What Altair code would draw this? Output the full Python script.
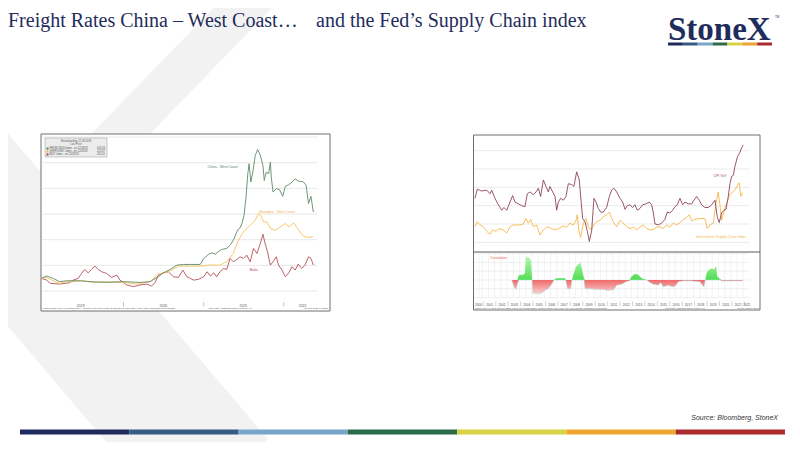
import altair as alt
import pandas as pd

W, H = 784, 434  # whole slide; the page adds an 8px margin

# ---------------- left chart: freight indices, normalized to 100 ----------------
china_wc = [("2018-12-24", 100), ("2019-01-16", 117), ("2019-02-15", 98), ("2019-03-16", 73),
            ("2019-04-16", 80), ("2019-05-16", 80), ("2019-06-16", 80), ("2019-08-01", 73),
            ("2019-10-16", 67), ("2020-01-01", 73), ("2020-03-16", 67), ("2020-05-01", 73),
            ("2020-06-08", 111), ("2020-07-01", 142), ("2020-08-01", 168), ("2020-09-01", 202),
            ("2020-10-01", 207), ("2020-11-01", 207), ("2020-12-16", 207), ("2021-01-01", 254),
            ("2021-01-24", 287), ("2021-02-08", 298), ("2021-02-22", 287), ("2021-03-08", 306),
            ("2021-03-24", 324), ("2021-04-16", 332), ("2021-05-01", 357), ("2021-05-16", 396),
            ("2021-06-01", 461), ("2021-06-08", 482), ("2021-06-16", 492), ("2021-06-24", 526),
            ("2021-07-04", 591), ("2021-07-13", 733), ("2021-07-21", 914), ("2021-07-27", 992),
            ("2021-08-04", 850), ("2021-08-13", 927), ("2021-08-24", 1057), ("2021-09-04", 1103),
            ("2021-09-16", 1057), ("2021-09-28", 979), ("2021-10-04", 862), ("2021-10-13", 927),
            ("2021-10-24", 914), ("2021-11-01", 1005), ("2021-11-05", 888), ("2021-11-13", 772),
            ("2021-11-28", 798), ("2021-12-13", 790), ("2021-12-27", 738), ("2022-01-08", 816),
            ("2022-01-24", 829), ("2022-02-08", 850), ("2022-02-22", 875), ("2022-03-08", 857),
            ("2022-04-01", 850), ("2022-04-13", 824), ("2022-04-24", 681), ("2022-05-05", 738),
            ("2022-05-16", 616)]

shanghai_wc = [("2018-12-24", 98), ("2019-01-16", 106), ("2019-02-15", 80), ("2019-03-16", 60),
               ("2019-04-16", 73), ("2019-05-16", 73), ("2019-07-01", 80), ("2019-08-16", 67),
               ("2019-10-16", 73), ("2020-01-01", 67), ("2020-03-01", 54), ("2020-05-01", 73),
               ("2020-06-08", 132), ("2020-07-08", 142), ("2020-08-08", 163), ("2020-09-08", 194),
               ("2020-11-01", 194), ("2020-12-16", 194), ("2021-01-24", 202), ("2021-03-16", 202),
               ("2021-04-16", 228), ("2021-05-01", 262), ("2021-05-16", 293), ("2021-06-08", 396),
               ("2021-06-24", 443), ("2021-07-08", 474), ("2021-07-24", 500), ("2021-08-08", 526),
               ("2021-08-24", 552), ("2021-09-08", 603), ("2021-09-19", 591), ("2021-10-01", 539),
               ("2021-10-16", 539), ("2021-11-01", 487), ("2021-11-24", 474), ("2021-12-16", 500),
               ("2022-01-08", 526), ("2022-01-24", 500), ("2022-02-16", 531), ("2022-03-08", 479),
               ("2022-04-01", 427), ("2022-04-24", 417), ("2022-05-16", 422)]

baltic = [("2018-12-24", 98), ("2019-01-16", 85), ("2019-02-01", 60), ("2019-03-16", 54),
          ("2019-05-01", 65), ("2019-05-16", 85), ("2019-06-08", 98), ("2019-06-24", 137),
          ("2019-07-08", 168), ("2019-07-24", 142), ("2019-08-08", 168), ("2019-08-24", 194),
          ("2019-09-08", 168), ("2019-09-24", 150), ("2019-10-16", 137), ("2019-11-08", 106),
          ("2019-12-01", 124), ("2019-12-16", 85), ("2020-01-16", 47), ("2020-02-16", 34),
          ("2020-03-16", 47), ("2020-04-16", 54), ("2020-05-08", 39), ("2020-05-24", 65),
          ("2020-06-08", 124), ("2020-07-01", 142), ("2020-07-24", 150), ("2020-08-16", 111),
          ("2020-09-08", 106), ("2020-09-28", 163), ("2020-10-16", 111), ("2020-11-01", 98),
          ("2020-11-16", 85), ("2020-12-08", 91), ("2021-01-01", 111), ("2021-01-16", 150),
          ("2021-02-01", 117), ("2021-02-16", 142), ("2021-03-01", 111), ("2021-03-16", 150),
          ("2021-04-01", 176), ("2021-04-16", 168), ("2021-05-01", 254), ("2021-05-16", 228),
          ("2021-06-01", 246), ("2021-06-16", 267), ("2021-07-01", 254), ("2021-07-16", 280),
          ("2021-08-01", 228), ("2021-08-16", 332), ("2021-09-01", 293), ("2021-09-16", 370),
          ("2021-09-28", 443), ("2021-10-08", 370), ("2021-10-19", 306), ("2021-11-01", 202),
          ("2021-11-13", 228), ("2021-11-28", 267), ("2021-12-08", 202), ("2021-12-24", 163),
          ("2022-01-08", 111), ("2022-01-24", 142), ("2022-02-08", 189), ("2022-02-22", 163),
          ("2022-03-08", 210), ("2022-03-24", 176), ("2022-04-08", 202), ("2022-04-24", 267),
          ("2022-05-05", 254), ("2022-05-16", 202)]

left_ticks = [0, 200, 400, 600, 800, 1000, 1200]
left_years = [("2019-06-20", "2019"), ("2020-07-01", "2020"), ("2021-07-01", "2021"), ("2022-03-28", "2022")]
left_year_breaks = ["2020-01-01", "2021-01-01", "2022-01-01"]
left_notes = [("2021-03-28", 965, "China - West Coast", "#5e7f66"),
              ("2021-12-01", 615, "Shanghai - West Coast", "#f2b24f"),
              ("2021-08-18", 163, "Baltic", "#b5505a")]

# ---------------- right chart: CPI YoY vs NY Fed GSCPI (decimal years) ----------------
cpi_yoy = [(2000.33, 2.8), (2000.52, 3.8), (2000.87, 3.6), (2001.27, 3.7), (2001.54, 3.3), (2001.67, 3.7),
           (2001.94, 2.8), (2002.21, 2.1), (2002.48, 1.5), (2002.66, 1.8), (2002.88, 1.5), (2003.15, 2.4),
           (2003.36, 3.1), (2003.55, 2.4), (2003.82, 2.2), (2004.09, 2.0), (2004.35, 1.9), (2004.54, 3.3),
           (2004.76, 3.5), (2005.02, 3.2), (2005.24, 3.5), (2005.43, 3.9), (2005.61, 3.0), (2005.83, 4.8),
           (2006.04, 4.1), (2006.23, 3.5), (2006.36, 4.1), (2006.58, 3.5), (2006.77, 3.0), (2006.90, 1.5),
           (2007.04, 2.4), (2007.22, 2.8), (2007.44, 2.6), (2007.65, 3.0), (2007.84, 4.4), (2008.11, 4.3),
           (2008.29, 4.1), (2008.51, 5.7), (2008.72, 4.8), (2008.86, 2.6), (2008.99, 0.6), (2009.18, 0.25),
           (2009.37, -0.8), (2009.53, -1.9), (2009.72, -0.7), (2009.90, 2.8), (2010.07, 2.4), (2010.25, 1.7),
           (2010.44, 1.3), (2010.66, 1.3), (2010.92, 1.8), (2011.14, 3.0), (2011.33, 3.7), (2011.51, 3.9),
           (2011.73, 3.5), (2012.00, 2.8), (2012.21, 2.4), (2012.40, 1.6), (2012.58, 2.0), (2012.80, 2.1),
           (2013.01, 1.8), (2013.20, 2.1), (2013.39, 1.5), (2013.60, 1.7), (2013.82, 2.1), (2014.09, 2.2),
           (2014.35, 2.4), (2014.54, 2.1), (2014.68, 1.2), (2014.81, 0.0), (2015.08, -0.1), (2015.35, 0.1),
           (2015.61, 0.5), (2015.80, 1.3), (2016.01, 1.2), (2016.23, 1.5), (2016.42, 1.9), (2016.61, 2.1),
           (2016.82, 2.8), (2017.04, 2.1), (2017.22, 2.4), (2017.49, 2.2), (2017.76, 2.2), (2017.95, 2.6),
           (2018.16, 3.0), (2018.37, 2.6), (2018.56, 2.1), (2018.83, 1.8), (2019.10, 1.8), (2019.37, 2.1),
           (2019.64, 2.6), (2019.82, 0.8), (2019.98, 0.15), (2020.17, 1.2), (2020.36, 1.5), (2020.52, 1.6),
           (2020.71, 3.0), (2020.84, 4.4), (2020.98, 5.2), (2021.11, 5.3), (2021.24, 6.25), (2021.45, 7.35),
           (2021.64, 7.8), (2021.78, 8.3), (2021.91, 8.6)]

gscpi = [(2000.33, -0.3), (2000.52, 0.25), (2000.73, -0.1), (2001.00, -0.3), (2001.27, -0.8), (2001.54, -1.1),
         (2001.75, -0.65), (2002.02, -0.8), (2002.29, -0.5), (2002.61, -0.65), (2002.88, -1.0), (2003.15, -0.3),
         (2003.42, -0.1), (2003.68, -0.1), (2003.95, -0.1), (2004.22, 0.0), (2004.43, 0.6), (2004.62, 0.1),
         (2004.81, 0.5), (2005.02, -0.3), (2005.29, -0.1), (2005.56, -1.2), (2005.83, -0.65), (2006.15, -0.3),
         (2006.50, -0.5), (2006.77, -0.65), (2007.04, -0.5), (2007.44, -0.2), (2007.71, -0.35), (2007.97, 0.1),
         (2008.24, -0.1), (2008.46, 0.4), (2008.56, 1.0), (2008.72, -1.0), (2008.83, -1.45), (2009.05, 0.1),
         (2009.26, 0.6), (2009.45, -0.3), (2009.64, -0.65), (2009.90, -0.1), (2010.12, 0.25), (2010.39, 0.4),
         (2010.66, 0.8), (2010.92, 1.0), (2011.14, 1.3), (2011.33, 0.6), (2011.51, 0.1), (2011.73, -0.3),
         (2012.00, 0.4), (2012.26, 0.1), (2012.53, -0.3), (2012.80, -0.5), (2013.07, -0.35), (2013.34, -0.65),
         (2013.60, -0.35), (2013.87, -0.1), (2014.14, -0.5), (2014.41, -0.65), (2014.68, -0.6), (2014.95, -0.35),
         (2015.21, -0.3), (2015.48, -0.5), (2015.75, -0.1), (2016.01, -0.35), (2016.28, 0.1), (2016.55, -0.1),
         (2016.82, 0.15), (2017.09, 0.5), (2017.36, 0.7), (2017.57, 1.0), (2017.76, 0.35), (2018.03, 0.5),
         (2018.43, 0.6), (2018.83, 0.6), (2019.02, -0.5), (2019.23, -0.1), (2019.50, 0.1), (2019.72, 2.25),
         (2019.90, 3.5), (2020.04, 2.1), (2020.17, 0.4), (2020.44, 1.75), (2020.84, 3.2), (2021.24, 3.7),
         (2021.59, 4.5), (2021.72, 3.0), (2021.86, 3.4)]

correlation = [(2003.28, 0.0), (2003.36, -0.03), (2003.47, -0.08), (2003.63, -0.11), (2003.74, -0.05),
               (2003.85, 0.05), (2003.95, 0.06), (2004.22, 0.06), (2004.35, 0.08), (2004.43, 0.27),
               (2004.54, 0.26), (2004.70, 0.25), (2004.84, 0.22), (2004.92, 0.0), (2004.97, -0.15),
               (2005.29, -0.16), (2005.69, -0.15), (2005.96, -0.12), (2006.23, -0.10), (2006.50, -0.05),
               (2006.69, 0.0), (2006.85, 0.02), (2007.57, 0.02), (2007.65, -0.01), (2007.76, -0.10),
               (2008.03, -0.10), (2008.13, 0.0), (2008.24, 0.06), (2008.46, 0.15), (2008.64, 0.18),
               (2008.78, 0.20), (2008.91, 0.14), (2009.10, 0.02), (2009.18, -0.10), (2009.58, -0.10),
               (2010.12, -0.11), (2010.66, -0.11), (2011.06, -0.12), (2011.51, -0.11), (2011.73, -0.06),
               (2012.13, -0.05), (2012.48, -0.02), (2012.75, -0.01), (2012.85, 0.02), (2012.93, 0.04),
               (2013.20, 0.07), (2013.47, 0.06), (2013.74, 0.02), (2014.14, 0.0), (2014.41, -0.03),
               (2014.68, -0.05), (2015.08, -0.06), (2015.27, -0.03), (2015.48, -0.08), (2015.88, -0.06),
               (2016.28, -0.08), (2016.50, -0.06), (2016.69, -0.02), (2017.09, -0.01), (2017.63, -0.01),
               (2018.43, -0.02), (2018.64, -0.06), (2018.75, -0.08), (2018.86, 0.0), (2018.97, 0.08),
               (2019.10, 0.11), (2019.37, 0.13), (2019.56, 0.12), (2019.72, 0.16), (2019.82, 0.04),
               (2020.04, 0.01), (2020.17, -0.01), (2021.86, -0.01)]

right_ticks = [-2, 0, 2, 4, 6, 8]
corr_ticks = [-0.2, -0.1, 0.0, 0.1, 0.2, 0.3]
right_notes = [(2020.04, 5.24, "CPI YoY", "#8e4458"),
               (2020.12, -1.38, "Government Supply Chain Index", "#f5b84a")]
# half-year ticks (Sep/Dec 2000, then Jun/Dec) and the year captions
half_years = [2000 + 8 / 12, 2000 + 11 / 12] + [y + m / 12 for y in range(2001, 2022) for m in (5, 11)]
right_years = [(2000.62, "2000")] + [(y + 0.5, str(y)) for y in range(2001, 2022)] + [(2022.2, "2022")]

bar_colors = ["#1e2a5c", "#355a85", "#79a6c8", "#2b6b4a", "#d7d344", "#eea52f", "#aa2a2e"]
navy = "#1f2d5c"
sans = "Liberation Sans"

one = pd.DataFrame({"a": [0]})


def txt(s, x, y, size=3, color="#555", align="left", font=sans, baseline="middle", **kw):
    return alt.Chart(pd.DataFrame({"t": [s]})).mark_text(
        align=align, baseline=baseline, fontSize=size, color=color, font=font, **kw
    ).encode(text="t:N", x=alt.value(x), y=alt.value(y))


def box(x, x2, y, y2, **kw):
    return alt.Chart(one).mark_rect(**kw).encode(
        x=alt.value(x), x2=alt.value(x2), y=alt.value(y), y2=alt.value(y2))


axis_style = dict(labelFontSize=3.5, labelColor="#555", labelFont=sans, tickSize=1.5, tickColor="#777",
                  tickWidth=0.6, domainColor="#888", domainWidth=0.8, labelPadding=0.8,
                  labelOverlap=False, labelFlush=False, grid=False, title=None)

# ---------------- background: watermark, title, logo, footer ----------------
wm_up = alt.Chart(one).mark_rule(color="#f2f2f2", strokeWidth=42, strokeCap="butt").encode(
    x=alt.value(271.5), y=alt.value(-38), x2=alt.value(-48.5), y2=alt.value(292))
wm_low = alt.Chart(one).mark_rule(color="#f2f2f2", strokeWidth=125, strokeCap="butt").encode(
    x=alt.value(-144.6), y=alt.value(52), x2=alt.value(212.5), y2=alt.value(472))

title1 = txt("Freight Rates China \u2013 West Coast\u2026", 0, 18.5, size=20, color=navy,
             font="Liberation Serif", baseline="alphabetic")
title2 = txt("and the Fed\u2019s Supply Chain index", 308, 18.5, size=20, color=navy,
             font="Liberation Serif", baseline="alphabetic")
logo = txt("StoneX", 660, 32, size=33, color=navy, font="Liberation Serif",
           baseline="alphabetic", fontWeight="bold")
tm = txt("TM", 767, 9, size=3, color=navy)

bars = pd.DataFrame({"i": list(range(7)), "c": bar_colors})


def color_bar(x0, x1, y0, y1):
    return alt.Chart(bars).transform_calculate(j="datum.i + 1").mark_rect().encode(
        x=alt.X("i:Q", scale=alt.Scale(domain=[0, 7], range=[x0, x1], nice=False, zero=False), axis=None),
        x2="j:Q",
        y=alt.value(y0), y2=alt.value(y1),
        color=alt.Color("c:N", scale=None))


logo_bar = color_bar(660, 764, 34.5, 37.5)
footer_bar = color_bar(12, 777, 421.5, 426.5)
source = txt("Source:  Bloomberg,  StoneX", 770, 410, size=7, color="#333", align="right", fontStyle="italic")

# ---------------- left chart ----------------
lx = alt.Scale(domain=[alt.DateTime(year=2018, month=12, date=24), alt.DateTime(year=2022, month=6, date=3)],
               range=[33.7, 309.3], nice=False)
ly = alt.Scale(domain=[-70, 1220], range=[292, 126.5], nice=False, zero=False)
month_ticks = [alt.DateTime(year=2019 + i // 12, month=i % 12 + 1, date=1) for i in range(42)]

lgrid = alt.Chart(pd.DataFrame({"v": left_ticks, "a": "2018-12-24", "b": "2022-06-03"})).mark_rule(
    color="#e2e2e2", strokeWidth=0.8
).encode(
    x=alt.X("a:T", scale=lx, axis=alt.Axis(orient="bottom", offset=-142, values=month_ticks,
            labelExpr="month(datum.value) % 3 == 2 ? timeFormat(datum.value, '%b') : ''", **axis_style)),
    x2="b:T",
    y=alt.Y("v:Q", scale=ly, axis=alt.Axis(orient="right", offset=-474.7, values=left_ticks, format="d",
            **axis_style)),
)


def lseries(pairs, color):
    return alt.Chart(pd.DataFrame(pairs, columns=["d", "v"])).mark_line(color=color, strokeWidth=0.9).encode(
        x=alt.X("d:T", scale=lx, axis=None), y=alt.Y("v:Q", scale=ly, axis=None))


lnotes = alt.Chart(pd.DataFrame(left_notes, columns=["d", "v", "t", "c"])).mark_text(
    fontSize=3.5, font=sans
).encode(x=alt.X("d:T", scale=lx, axis=None), y=alt.Y("v:Q", scale=ly, axis=None),
         text="t:N", color=alt.Color("c:N", scale=None))

lyears = alt.Chart(pd.DataFrame(left_years, columns=["d", "t"])).mark_text(
    fontSize=3.5, font=sans, color="#555", baseline="top"
).encode(x=alt.X("d:T", scale=lx, axis=None), y=alt.value(295.5), text="t:N")
lbreaks = alt.Chart(pd.DataFrame({"d": left_year_breaks})).mark_rule(color="#888", strokeWidth=0.5).encode(
    x=alt.X("d:T", scale=lx, axis=None), y=alt.value(294), y2=alt.value(298.5))

legend_rows = [("FRDWCNUS Index", "616.18", "#4f7d5b", 140.5),
               ("SHSPUSWC Index", "421.87", "#f4b43c", 143.5),
               ("BDIY Index", "202.41", "#b5363f", 146.5)]
legend = [box(37, 99, 130, 149, fill="#ececec", stroke="#a8a8a8", strokeWidth=0.6),
          txt("Normalized by 12-28-2018", 68, 133, size=2.6, align="center"),
          txt("Last Price", 68, 136.5, size=2.6, align="center")]
for name, last, col, yy in legend_rows:
    legend += [box(38.5, 40.5, yy - 1, yy + 1, fill=col),
               txt(name + "  - on 12/28/18", 41.5, yy, size=2.6),
               txt(last, 97, yy, size=2.6, align="right")]

left = alt.layer(
    box(33, 322, 126, 303, fill="white", stroke="#6e6e6e", strokeWidth=1),
    lgrid,
    lseries(baltic, "#b5505a"),
    lseries(shanghai_wc, "#f7c25a"),
    lseries(china_wc, "#5e8a68"),
    lnotes, lyears, lbreaks,
    *legend,
    txt("FRDWCNUS Index (Freightos Index - China to US West Coast)  SHSPUSWC Index  BDIY Index  Daily 12/28/2018-05/13/2022",
        34.5, 299.7, size=2.4),
    txt("Copyright\u00a9 2022 Bloomberg Finance L.P.", 222.5, 299.7, size=2.4, align="center"),
    txt("13-May-2022 14:22:53", 320.3, 299.7, size=2.4, align="right"),
)

# ---------------- right chart: top panel ----------------
rx = alt.Scale(domain=[2000.25, 2022.40], range=[466, 741.3], nice=False, zero=False)
rty = alt.Scale(domain=[-3.02, 9.71], range=[243.7, 127], nice=False, zero=False)
rby = alt.Scale(domain=[-0.209, 0.311], range=[290.3, 244.7], nice=False, zero=False)

rtgrid = alt.Chart(pd.DataFrame({"v": right_ticks, "a": 2000.25, "b": 2022.40})).mark_rule(
    color="#e6e6e6", strokeWidth=0.8
).encode(
    x=alt.X("a:Q", scale=rx, axis=None), x2="b:Q",
    y=alt.Y("v:Q", scale=rty, axis=alt.Axis(orient="right", offset=-42.7, values=right_ticks, format=".2f",
            **axis_style)),
)


def rseries(pairs, color):
    return alt.Chart(pd.DataFrame(pairs, columns=["t", "v"])).mark_line(color=color, strokeWidth=0.9).encode(
        x=alt.X("t:Q", scale=rx, axis=None), y=alt.Y("v:Q", scale=rty, axis=None))


rnotes = alt.Chart(pd.DataFrame(right_notes, columns=["t", "v", "s", "c"])).mark_text(
    fontSize=3.5, font=sans
).encode(x=alt.X("t:Q", scale=rx, axis=None), y=alt.Y("v:Q", scale=rty, axis=None),
         text="s:N", color=alt.Color("c:N", scale=None))

rtop = alt.layer(
    box(465.5, 752, 127, 302, fill="white", stroke="#6e6e6e", strokeWidth=1),
    rtgrid,
    rseries(gscpi, "#f5b84a"),
    rseries(cpi_yoy, "#8e4458"),
    rnotes,
)

# ---------------- right chart: correlation panel ----------------
rbgrid = alt.Chart(pd.DataFrame({"v": corr_ticks, "a": 2000.25, "b": 2022.40})).mark_rule(
    color="#e6e6e6", strokeWidth=0.6
).encode(
    x=alt.X("a:Q", scale=rx, axis=alt.Axis(orient="bottom", offset=-143.7, values=half_years,
            labelExpr="(datum.value % 1) < 0.5 ? 'Jun' : ((datum.value % 1) < 0.8 ? 'Sep' : 'Dec')",
            **axis_style)),
    x2="b:Q",
    y=alt.Y("v:Q", scale=rby, axis=alt.Axis(orient="right", offset=-42.7, values=corr_ticks, format=".2f",
            **axis_style)),
)
rbvgrid = alt.Chart(pd.DataFrame({"t": half_years, "lo": -0.209, "hi": 0.311})).mark_rule(
    color="#e6e6e6", strokeWidth=0.5
).encode(x=alt.X("t:Q", scale=rx, axis=None), y=alt.Y("lo:Q", scale=rby, axis=None), y2="hi:Q")

corr = alt.Chart(pd.DataFrame(correlation, columns=["t", "v"])).transform_calculate(
    pos="max(datum.v, 0)", neg="min(datum.v, 0)")
green_fill = alt.Gradient(gradient="linear", x1=0, x2=0, y1=0, y2=1,
                          stops=[alt.GradientStop(color="#b6f7b6", offset=0),
                                 alt.GradientStop(color="#52dd52", offset=1)])
red_fill = alt.Gradient(gradient="linear", x1=0, x2=0, y1=0, y2=1,
                        stops=[alt.GradientStop(color="#f06868", offset=0),
                               alt.GradientStop(color="#fcd2d2", offset=1)])
corr_pos = corr.mark_area(color=green_fill).encode(
    x=alt.X("t:Q", scale=rx, axis=None), y=alt.Y("pos:Q", scale=rby, axis=None), y2=alt.datum(0))
corr_neg = corr.mark_area(color=red_fill).encode(
    x=alt.X("t:Q", scale=rx, axis=None), y=alt.Y("neg:Q", scale=rby, axis=None), y2=alt.datum(0))
corr_edge = corr.mark_line(color="#9fe6e6", strokeWidth=0.5).encode(
    x=alt.X("t:Q", scale=rx, axis=None), y=alt.Y("neg:Q", scale=rby, axis=None))

ryears = alt.Chart(pd.DataFrame(right_years, columns=["t", "s"])).mark_text(
    fontSize=3.2, font=sans, color="#555", baseline="top"
).encode(x=alt.X("t:Q", scale=rx, axis=None), y=alt.value(295.3), text="s:N")
rbreaks = alt.Chart(pd.DataFrame({"t": list(range(2001, 2023))})).mark_rule(color="#888", strokeWidth=0.4).encode(
    x=alt.X("t:Q", scale=rx, axis=None), y=alt.value(293.5), y2=alt.value(298))

rbot = alt.layer(
    rbgrid, rbvgrid, corr_pos, corr_neg, corr_edge,
    box(465.5, 752, 243.6, 244.6, fill="#5a5a5a"),
    txt("Correlation", 482, 249.7, size=3.5, color="#f05a5a"),
    ryears, rbreaks,
    txt("GSCPI Index (Federal Reserve Bank of New York Global Supply Chain Pressure Index)  CPI YOY Index  Monthly 01/31/2000-04/30/2022",
        467, 300.3, size=2.2),
    txt("Copyright\u00a9 2022 Bloomberg Finance L.P.", 677, 300.3, size=2.2, align="center"),
    txt("13-May-2022 14:23:40", 751.3, 300.3, size=2.2, align="right"),
)

chart = alt.layer(
    wm_up, wm_low, title1, title2, logo, tm, logo_bar, footer_bar, source,
    left, rtop, rbot,
).resolve_scale(
    x="independent", y="independent"
).properties(
    width=W, height=H, padding=0,
    autosize=alt.AutoSizeParams(type="none"),
    background="white",
).configure_view(
    stroke=None
)

chart.save("out.html", embed_options={"renderer": "svg", "actions": False})
